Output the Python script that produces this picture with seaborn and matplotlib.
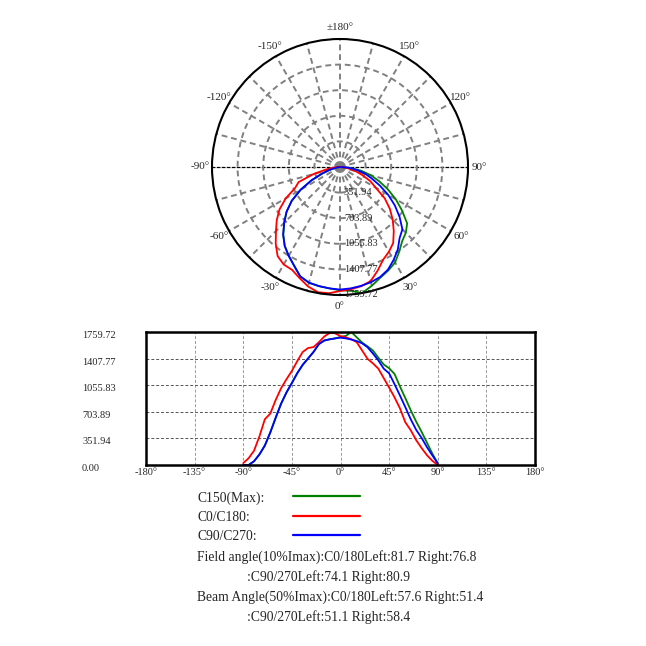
import numpy as np
import matplotlib
matplotlib.use('Agg')
import matplotlib.pyplot as plt
from matplotlib.lines import Line2D
from matplotlib.transforms import offset_copy, ScaledTranslation
import seaborn as sns

sns.set_style('white')
plt.rcParams['font.family'] = ['Liberation Serif', 'DejaVu Serif']

# gamma angles (deg) and intensities
angles = list(range(-90, 95, 5))
c150_max = [0, 0, 50, 140, 258, 430, 625, 810, 960, 1085, 1215, 1325, 1410,
            1495, 1600, 1647, 1663, 1675, 1695, 1708, 1759.72, 1690, 1620,
            1570, 1515, 1420, 1330, 1280, 1205, 1040, 885, 725, 575, 440,
            296, 150, 22]
c0_c180 = [25, 90, 190, 380, 606, 680, 860, 1015, 1135, 1245, 1375, 1495,
           1548, 1560, 1625, 1700, 1748, 1742, 1705, 1688, 1665, 1625, 1515,
           1405, 1345, 1275, 1150, 1025, 895, 750, 565, 460, 330, 225, 130,
           55, 0]
c90_c270 = [0, 0, 50, 140, 258, 430, 625, 810, 960, 1085, 1215, 1325, 1410,
            1495, 1600, 1647, 1663, 1675, 1685, 1675, 1660, 1640, 1610, 1558,
            1475, 1385, 1275, 1213, 1070, 920, 765, 605, 466, 360, 236, 127,
            22]

ring_values = [351.94, 703.89, 1055.83, 1407.77, 1759.72]
lin_yticks = [0.00] + ring_values
lin_xticks = list(range(-180, 181, 45))
polar_labels = ['0°', '30°', '60°', '90°', '120°', '150°', '±180°',
                '-150°', '-120°', '-90°', '-60°', '-30°']

series_names = ['C150(Max):', 'C0/C180:', 'C90/C270:']
series_values = [c150_max, c0_c180, c90_c270]
series_colors = ['#008000', '#ff0000', '#0000ff']

info_lines = [
    ('Field angle(10%Imax):C0/180Left:81.7 Right:76.8', 0),
    (':C90/270Left:74.1 Right:80.9', 1),
    ('Beam Angle(50%Imax):C0/180Left:57.6 Right:51.4', 0),
    (':C90/270Left:51.1 Right:58.4', 1),
]


def main():
    W = 646
    fig = plt.figure(figsize=(6.46, 6.46), dpi=100)

    # polar diagram
    ax_p = fig.add_axes([212 / W, 1 - 295 / W, 256 / W, 256 / W], projection='polar')
    ax_p.set_theta_zero_location('S')
    ax_p.set_theta_direction(1)
    for vals, col in zip(series_values, series_colors):
        sns.lineplot(x=np.deg2rad(angles), y=vals, ax=ax_p, color=col,
                     lw=1.3, sort=False, legend=False)
    grid_angles = list(range(0, 360, 15))
    grid_labels = [polar_labels[a // 30] if a % 30 == 0 else '' for a in grid_angles]
    ax_p.set_thetagrids(grid_angles, grid_labels, fontsize=8)
    ax_p.set_rlim(0, 1759.72)
    ax_p.set_rticks(ring_values[:-1])
    ax_p.set_yticklabels([])
    ax_p.set_xlabel('')
    ax_p.set_ylabel('')
    ax_p.grid(True, color='#808080', ls=(0, (3, 2)), lw=1.4)
    for ang, gl in zip(grid_angles, ax_p.xaxis.get_gridlines()):
        if ang in (90, 270):
            gl.set(color='black', lw=0.9, ls=(0, (3, 1)))
    ax_p.spines['polar'].set(color='black', lw=1.5)
    ax_p.tick_params(axis='x', pad=-2.2)
    trans = offset_copy(ax_p.transData, fig=fig, x=4, y=0, units='dots')
    for r in ring_values:
        ax_p.text(0, r, f'{r:.2f}', transform=trans, ha='left', va='center',
                  fontsize=7.5)

    # linear diagram
    ax_l = fig.add_axes([146 / W, 1 - 465 / W, 389 / W, 133 / W])
    for vals, col in zip(series_values, series_colors):
        sns.lineplot(x=angles, y=vals, ax=ax_l, color=col, lw=1.3, legend=False)
    ax_l.set_xlim(-180, 180)
    ax_l.set_ylim(0, 1759.72)
    ax_l.set_xticks(lin_xticks, [f'{t}°' for t in lin_xticks])
    ax_l.set_yticks(lin_yticks, [f'{v:.2f}' for v in lin_yticks])
    ax_l.tick_params(length=0, labelsize=7.5)
    ax_l.tick_params(axis='x', pad=2)
    ax_l.tick_params(axis='y', pad=46)
    shift = ScaledTranslation(0, -2.5 / 100, fig.dpi_scale_trans)
    for lbl in ax_l.get_yticklabels():
        lbl.set_ha('left')
        lbl.set_transform(lbl.get_transform() + shift)
    ax_l.set_xlabel('')
    ax_l.set_ylabel('')
    for sp in ax_l.spines.values():
        sp.set(color='black', lw=1.8)
    ax_l.xaxis.grid(True, color='#999999', ls=(0, (3, 2)), lw=0.7)
    ax_l.yaxis.grid(True, color='#555555', ls=(0, (3, 2)), lw=0.7)

    # legend block
    for i, (name, col) in enumerate(zip(series_names, series_colors)):
        y = 1 - (498 + 19.5 * i) / W
        fig.text(197 / W, y, name, fontsize=9.8, va='center')
        fig.add_artist(Line2D([293 / W, 360 / W], [y + 2 / W] * 2, color=col,
                              lw=1.6, transform=fig.transFigure))
    for j, (txt, indent) in enumerate(info_lines):
        y = 1 - (557 + 20 * j) / W
        fig.text((197 + 50 * indent) / W, y, txt, fontsize=9.8, va='center')

    fig.savefig('out.png', dpi=100)


if __name__ == '__main__':
    main()
